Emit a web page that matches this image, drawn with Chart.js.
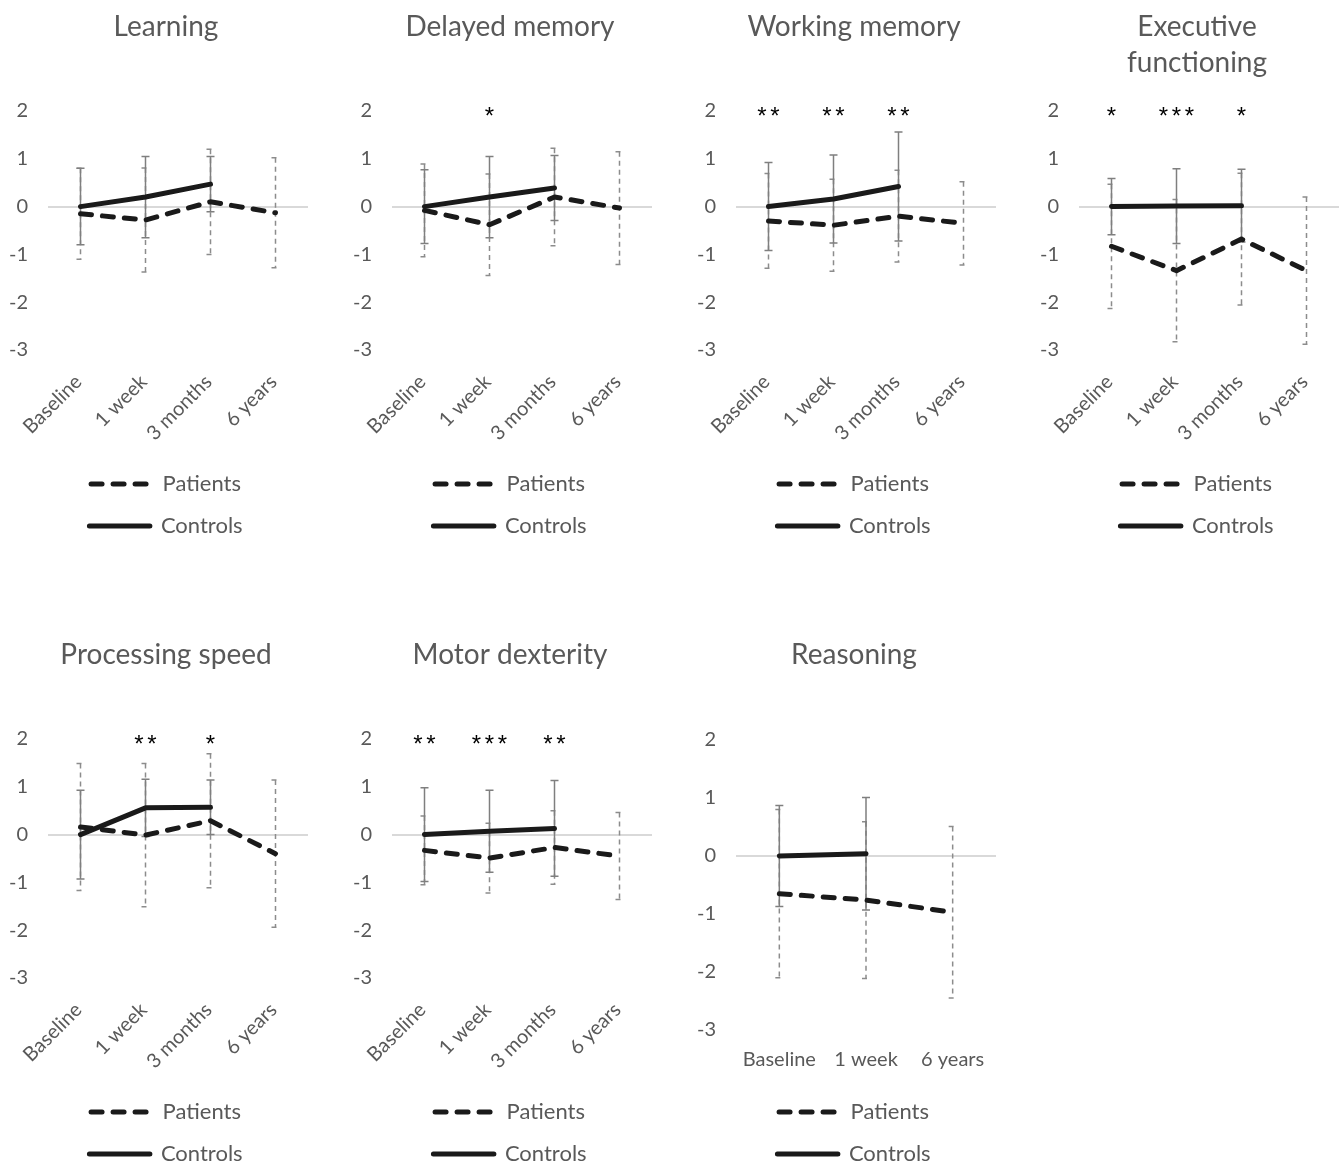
<!DOCTYPE html>
<html><head><meta charset="utf-8">
<script src="https://cdn.jsdelivr.net/npm/chart.js@4.4.1/dist/chart.umd.min.js"></script>
<style>
html,body{margin:0;padding:0;background:#fff;overflow:hidden;width:1343px;height:1162px;position:relative;}
canvas{position:absolute;}
</style></head><body>
<canvas id="c1" width="336" height="547" style="left:0;top:0"></canvas>
<canvas id="c2" width="336" height="547" style="left:344px;top:0"></canvas>
<canvas id="c3" width="336" height="547" style="left:688px;top:0"></canvas>
<canvas id="c4" width="336" height="547" style="left:1031px;top:0"></canvas>
<canvas id="c5" width="336" height="547" style="left:0;top:628px"></canvas>
<canvas id="c6" width="336" height="547" style="left:344px;top:628px"></canvas>
<canvas id="c7" width="336" height="547" style="left:688px;top:628px"></canvas>
<script>
// ---------- DATA ----------
const timepoints = ['Baseline', '1 week', '3 months', '6 years'];
const reasoningTimepoints = ['Baseline', '1 week', '6 years'];
const seriesNames = ['Patients', 'Controls'];

const learningPatients   = [-0.15, -0.28, 0.10, -0.13];
const learningPatientsSD = [0.95, 1.09, 1.10, 1.15];
const learningControls   = [0, 0.20, 0.47, null];
const learningControlsSD = [0.80, 0.85, 0.58, null];
const learningSig        = ['', '', '', ''];

const delayedPatients   = [-0.08, -0.38, 0.20, -0.03];
const delayedPatientsSD = [0.97, 1.06, 1.02, 1.18];
const delayedControls   = [0, 0.20, 0.39, null];
const delayedControlsSD = [0.77, 0.85, 0.68, null];
const delayedSig        = ['', '*', '', ''];

const workingPatients   = [-0.30, -0.39, -0.20, -0.35];
const workingPatientsSD = [0.99, 0.96, 0.96, 0.87];
const workingControls   = [0, 0.16, 0.42, null];
const workingControlsSD = [0.92, 0.92, 1.14, null];
const workingSig        = ['**', '**', '**', ''];

const execPatients   = [-0.83, -1.34, -0.68, -1.34];
const execPatientsSD = [1.30, 1.49, 1.38, 1.54];
const execControls   = [0, 0.01, 0.02, null];
const execControlsSD = [0.59, 0.78, 0.76, null];
const execSig        = ['*', '***', '*', ''];

const procPatients   = [0.16, -0.01, 0.29, -0.40];
const procPatientsSD = [1.33, 1.50, 1.40, 1.54];
const procControls   = [0, 0.56, 0.57, null];
const procControlsSD = [0.93, 0.60, 0.57, null];
const procSig        = ['', '**', '*', ''];

const motorPatients   = [-0.33, -0.49, -0.27, -0.45];
const motorPatientsSD = [0.72, 0.73, 0.77, 0.91];
const motorControls   = [0, 0.07, 0.13, null];
const motorControlsSD = [0.98, 0.86, 1.00, null];
const motorSig        = ['**', '***', '**', ''];

const reasoningPatients   = [-0.65, -0.76, -0.97];
const reasoningPatientsSD = [1.45, 1.35, 1.48];
const reasoningControls   = [0, 0.04, null];
const reasoningControlsSD = [0.87, 0.97, null];
const reasoningSig        = ['', '', ''];

const yMin = -3, yMax = 2, yStep = 1;

// ---------- STYLE ----------
const FONT = 'Lato, "Open Sans", sans-serif';
const GREY = '#595959';

const errorBarPlugin = {
  id: 'errorBars',
  beforeDatasetsDraw(chart) {
    const ctx = chart.ctx, xs = chart.scales.x, ys = chart.scales.y;
    chart.data.datasets.forEach(ds => {
      const err = ds.errors; if (!err) return;
      ctx.save();
      ctx.strokeStyle = ds.errorColor;
      ctx.lineWidth = 1.5;
      ctx.setLineDash(ds.errorDash || []);
      ds.data.forEach((v, i) => {
        if (v === null || err[i] === null) return;
        const px = xs.getPixelForValue(i);
        const top = ys.getPixelForValue(v + err[i]);
        const bot = ys.getPixelForValue(v - err[i]);
        ctx.beginPath();
        ctx.moveTo(px, top); ctx.lineTo(px, bot);
        ctx.moveTo(px - 4, top); ctx.lineTo(px + 4, top);
        ctx.moveTo(px - 4, bot); ctx.lineTo(px + 4, bot);
        ctx.stroke();
      });
      ctx.restore();
    });
  }
};

const sigPlugin = {
  id: 'sigMarks',
  afterDraw(chart, args, opts) {
    const marks = opts.marks || [];
    const ctx = chart.ctx, xs = chart.scales.x, ys = chart.scales.y;
    ctx.save();
    ctx.fillStyle = '#000';
    ctx.font = '24px "Liberation Sans", Arial, sans-serif';
    ctx.textAlign = 'center';
    ctx.textBaseline = 'alphabetic';
    const yy = ys.getPixelForValue(yMax) + 13;
    marks.forEach((s, i) => {
      if (!s) return;
      const cx = xs.getPixelForValue(i);
      const gap = 13;
      const n = s.length;
      for (let k = 0; k < n; k++) {
        ctx.fillText(s[k], cx + (k - (n - 1) / 2) * gap, yy);
      }
    });
    ctx.restore();
  }
};

function makePanel(id, title, labels, pat, patSD, con, conSD, sig, rotated) {
  const twoLine = Array.isArray(title);
  const titleBottom = rotated ? (twoLine ? 30 : 66) : 67;
  const xHeight = rotated ? 103 : 51;
  new Chart(document.getElementById(id), {
    type: 'line',
    data: {
      labels: labels,
      datasets: [
        { label: seriesNames[0], data: pat, errors: patSD, errorColor: '#8c8c8c', errorDash: [5, 4],
          borderColor: '#1a1a1a', backgroundColor: '#1a1a1a', borderWidth: 5, borderDash: [11, 11],
          borderCapStyle: 'round', borderJoinStyle: 'round', pointRadius: 0, tension: 0 },
        { label: seriesNames[1], data: con, errors: conSD, errorColor: '#7f7f7f', errorDash: [],
          borderColor: '#1a1a1a', backgroundColor: '#1a1a1a', borderWidth: 5,
          borderCapStyle: 'round', borderJoinStyle: 'round', pointRadius: 0, tension: 0 }
      ]
    },
    options: {
      responsive: false, animation: false, events: [],
      layout: { padding: { left: 0, right: 4, top: 0, bottom: 0 } },
      plugins: {
        title: { display: true, text: title, color: GREY,
          font: { family: FONT, size: 28, weight: 'normal', lineHeight: '36px' },
          padding: { top: 9, bottom: titleBottom } },
        legend: { position: 'bottom',
          labels: { usePointStyle: false, boxWidth: 60.5, boxHeight: 0, color: GREY,
            font: { family: FONT, size: 22 }, padding: 20 } },
        tooltip: { enabled: false },
        sigMarks: { marks: sig }
      },
      scales: {
        x: { offset: true, grid: { display: false, drawTicks: false }, border: { display: false },
          ticks: { color: GREY, font: { family: FONT, size: 20 }, maxRotation: rotated ? 45 : 0,
            minRotation: rotated ? 45 : 0, padding: rotated ? 20 : 18, labelOffset: rotated ? -2 : 0, autoSkip: false },
          afterFit: s => { s.height = xHeight; } },
        y: { min: yMin, max: yMax,
          ticks: { stepSize: yStep, color: GREY, font: { family: FONT, size: 20 }, padding: 20 },
          grid: { color: c => c.tick.value === 0 ? '#d9d9d9' : 'rgba(0,0,0,0)', lineWidth: 2, drawTicks: false },
          border: { display: false },
          afterFit: s => { s.width = 48; } },
        yRight: { position: 'right', display: true, grid: { display: false, drawTicks: false },
          border: { display: false }, ticks: { display: false },
          afterFit: s => { s.width = 24; } }
      }
    },
    plugins: [errorBarPlugin, sigPlugin]
  });
}

makePanel('c1', 'Learning', timepoints, learningPatients, learningPatientsSD, learningControls, learningControlsSD, learningSig, true);
makePanel('c2', 'Delayed memory', timepoints, delayedPatients, delayedPatientsSD, delayedControls, delayedControlsSD, delayedSig, true);
makePanel('c3', 'Working memory', timepoints, workingPatients, workingPatientsSD, workingControls, workingControlsSD, workingSig, true);
makePanel('c4', ['Executive', 'functioning'], timepoints, execPatients, execPatientsSD, execControls, execControlsSD, execSig, true);
makePanel('c5', 'Processing speed', timepoints, procPatients, procPatientsSD, procControls, procControlsSD, procSig, true);
makePanel('c6', 'Motor dexterity', timepoints, motorPatients, motorPatientsSD, motorControls, motorControlsSD, motorSig, true);
makePanel('c7', 'Reasoning', reasoningTimepoints, reasoningPatients, reasoningPatientsSD, reasoningControls, reasoningControlsSD, reasoningSig, false);
</script>
</body></html>
